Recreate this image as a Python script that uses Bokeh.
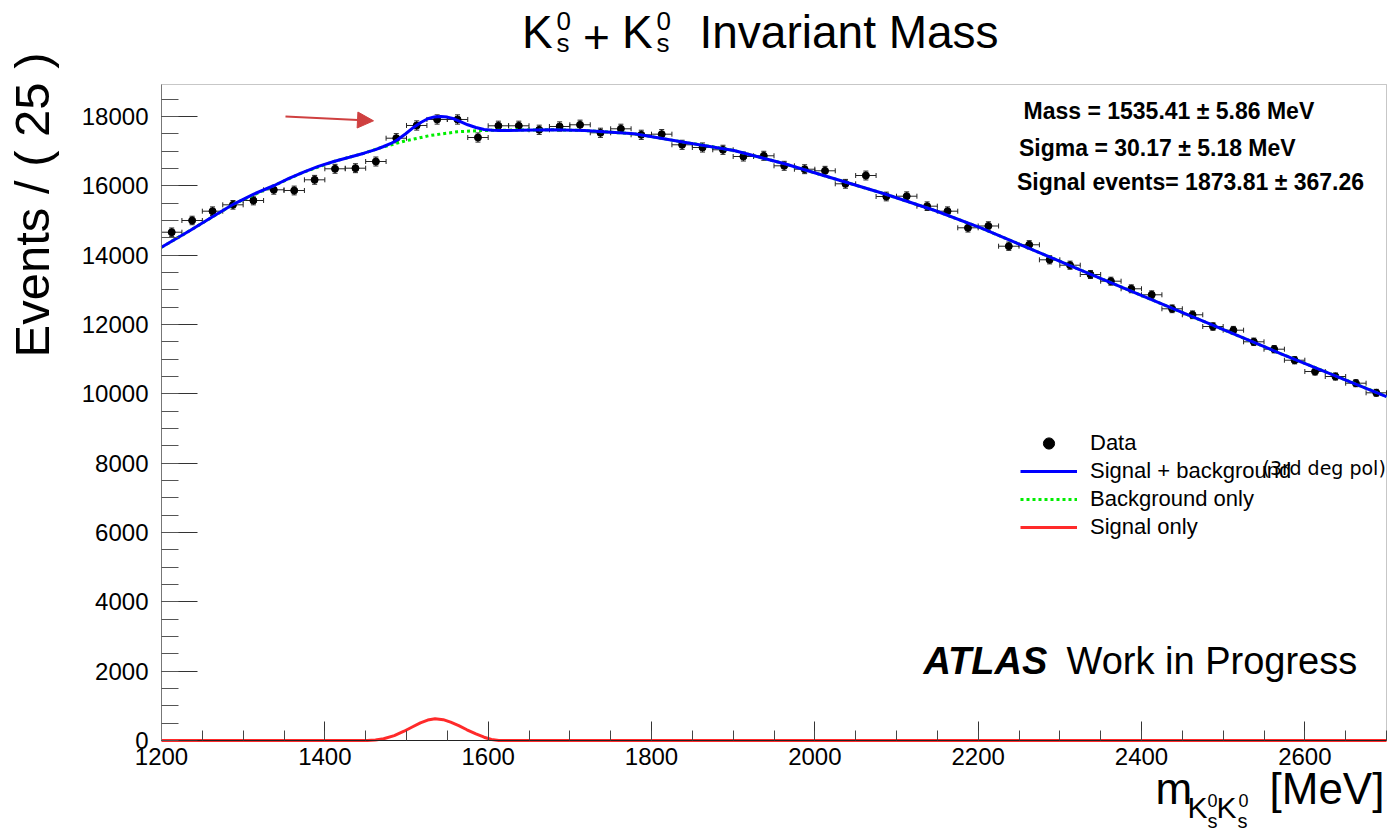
import numpy as np
from bokeh.plotting import figure
from bokeh.models import (Range1d, SingleIntervalTicker, ColumnDataSource, Whisker, TeeHead,
                          Legend, LegendItem, Label, Arrow, NormalHead, BoxAnnotation)
from bokeh.embed import file_html
from bokeh.resources import INLINE

# ---------------- data ----------------
bin_centers = [1212.5, 1237.5, 1262.5, 1287.5, 1312.5, 1337.5, 1362.5, 1387.5, 1412.5, 1437.5,
               1462.5, 1487.5, 1512.5, 1537.5, 1562.5, 1587.5, 1612.5, 1637.5, 1662.5, 1687.5,
               1712.5, 1737.5, 1762.5, 1787.5, 1812.5, 1837.5, 1862.5, 1887.5, 1912.5, 1937.5,
               1962.5, 1987.5, 2012.5, 2037.5, 2062.5, 2087.5, 2112.5, 2137.5, 2162.5, 2187.5,
               2212.5, 2237.5, 2262.5, 2287.5, 2312.5, 2337.5, 2362.5, 2387.5, 2412.5, 2437.5,
               2462.5, 2487.5, 2512.5, 2537.5, 2562.5, 2587.5, 2612.5, 2637.5, 2662.5, 2687.5]
counts = [14660, 14998, 15266, 15450, 15574, 15883, 15863, 16171, 16489, 16506,
          16699, 17371, 17738, 17911, 17911, 17391, 17729, 17729, 17614, 17709,
          17758, 17527, 17642, 17469, 17487, 17181, 17103, 17037, 16843, 16864,
          16575, 16477, 16431, 16056, 16295, 15690, 15698, 15410, 15266, 14787,
          14839, 14256, 14297, 13864, 13708, 13440, 13247, 13028, 12855, 12451,
          12278, 11940, 11834, 11499, 11286, 10968, 10642, 10498, 10305, 10028]
bin_width = 25

total_x = [1200, 1235, 1262, 1289, 1313, 1338, 1356, 1374, 1392, 1411, 1430, 1448, 1462, 1472,
           1481, 1489, 1499, 1509, 1518, 1526, 1534, 1542, 1550, 1558, 1566, 1575, 1585, 1595,
           1605, 1615, 1640, 1677, 1718, 1779, 1840, 1901, 1963, 2024, 2085, 2147, 2204, 2327,
           2449, 2571, 2700]
total_y = [14227, 14709, 15100, 15479, 15760, 16007, 16210, 16391, 16560, 16699, 16820, 16939,
           17040, 17132, 17220, 17325, 17500, 17689, 17830, 17931, 17985, 18000, 17980, 17931,
           17850, 17758, 17680, 17622, 17600, 17593, 17600, 17614, 17593, 17498, 17256, 17016,
           16633, 16200, 15768, 15286, 14775, 13555, 12353, 11153, 9921]

bkg_x = [1200, 1235, 1289, 1338, 1374, 1411, 1448, 1468, 1497, 1529, 1562, 1591, 1615, 1677,
         1718, 1779, 1840, 1901, 1963, 2024, 2085, 2147, 2204, 2327, 2449, 2571, 2700]
bkg_y = [14227, 14709, 15479, 16007, 16391, 16699, 16939, 17094, 17285, 17449, 17556, 17593,
         17602, 17614, 17593, 17498, 17256, 17016, 16633, 16200, 15768, 15286, 14775, 13555,
         12353, 11153, 9921]

sig_x = [1200, 1452, 1462, 1472, 1485, 1497, 1507, 1517, 1526, 1535, 1545, 1554, 1564, 1574,
         1585, 1595, 1604, 1613, 2700]
sig_y = [0, 0, 15, 49, 140, 268, 390, 510, 590, 626, 600, 528, 430, 309, 190, 95, 30, 0, 0]

x_ticks_interval = 200
y_ticks_interval = 2000

# ---------------- geometry ----------------
W, H = 1390, 834
X_MIN, X_MAX = 1200, 2700
Y_MIN, Y_MAX = 0, 18920
FL, FR, FT, FB = 161, 1386, 84, 740   # pixel box of the axes frame


def X(px):
    return X_MIN + (px - FL) * (X_MAX - X_MIN) / (FR - FL)


def Y(py):
    return Y_MIN + (FB - py) * (Y_MAX - Y_MIN) / (FB - FT)


p = figure(width=W, height=H, x_range=Range1d(X(0), X(W)), y_range=Range1d(Y(H), Y(0)),
           output_backend="svg", toolbar_location=None, title=None, min_border=0)
p.background_fill_color = "white"
p.border_fill_color = "white"
p.outline_line_color = None
p.xgrid.visible = False
p.ygrid.visible = False

xa = p.xaxis[0]
xa.fixed_location = Y_MIN
xa.bounds = (X_MIN, X_MAX)
xa.ticker = SingleIntervalTicker(interval=x_ticks_interval, num_minor_ticks=4)
xa.major_tick_in = 19
xa.major_tick_out = 0
xa.minor_tick_in = 10
xa.minor_tick_out = 0
xa.major_label_standoff = 7
xa.major_label_text_font = "Liberation Sans"
xa.major_label_text_font_size = "24px"
xa.major_label_text_color = "black"
xa.axis_line_color = "#222222"
xa.major_tick_line_color = "#333333"
xa.minor_tick_line_color = "#444444"

ya = p.yaxis[0]
ya.fixed_location = X_MIN
ya.bounds = (Y_MIN, Y_MAX)
ya.ticker = SingleIntervalTicker(interval=y_ticks_interval, num_minor_ticks=4)
ya.major_tick_in = 36
ya.major_tick_out = 0
ya.minor_tick_in = 17
ya.minor_tick_out = 0
ya.major_label_standoff = 13
ya.major_label_text_font = "Liberation Sans"
ya.major_label_text_font_size = "24px"
ya.major_label_text_color = "black"
ya.axis_line_color = "#777777"
ya.major_tick_line_color = "#333333"
ya.minor_tick_line_color = "#555555"

# frame box (top and right edges)
p.add_layout(BoxAnnotation(left=X_MIN, right=X_MAX, bottom=Y_MIN, top=Y_MAX,
                           fill_alpha=0, line_color="#444444", line_width=1, level="underlay"))

# ---------------- data points with error bars ----------------
cnt = np.array(counts, dtype=float)
err = np.sqrt(cnt)
xc = np.array(bin_centers, dtype=float)
src = ColumnDataSource(dict(x=xc, y=cnt, yl=cnt - err, yu=cnt + err,
                            xl=xc - bin_width / 2, xu=xc + bin_width / 2))

wh = Whisker(source=src, base="y", lower="xl", upper="xu", dimension="width",
             line_color="#222222", line_width=1, level="underlay",
             lower_head=TeeHead(size=5, line_color="#222222", line_width=1),
             upper_head=TeeHead(size=5, line_color="#222222", line_width=1))
wv = Whisker(source=src, base="x", lower="yl", upper="yu", dimension="height",
             line_color="#222222", line_width=1, level="underlay",
             lower_head=TeeHead(size=5, line_color="#222222", line_width=1),
             upper_head=TeeHead(size=5, line_color="#222222", line_width=1))
p.add_layout(wh)
p.add_layout(wv)

pts = p.scatter("x", "y", source=src, size=7, color="black")

r_bkg = p.line(bkg_x, bkg_y, line_color="#00ee00", line_width=3, line_dash="3 3")
r_tot = p.line(total_x, total_y, line_color="#0000ff", line_width=3)
r_sig = p.line(sig_x, sig_y, line_color="#ff2a2a", line_width=3)

# ---------------- legend ----------------
legend = Legend(items=[LegendItem(label="Data", renderers=[pts]),
                       LegendItem(label="Signal + background", renderers=[r_tot]),
                       LegendItem(label="Background only", renderers=[r_bkg]),
                       LegendItem(label="Signal only", renderers=[r_sig])],
                location=(1020, H - 541),
                border_line_alpha=0, background_fill_alpha=0,
                label_text_font="Liberation Sans", label_text_font_size="22px",
                label_text_color="black",
                glyph_width=57, glyph_height=28, label_height=28, spacing=0,
                padding=0, margin=0, label_standoff=13)
p.add_layout(legend)

DESC = 0.17  # fraction of the font size between the baseline and the text bottom


def lab(text, px, py, size, font="Liberation Sans", style="normal"):
    """px: left of the text, py: pixel row of its baseline."""
    l = Label(x=X(px), y=Y(py + DESC * size), text=text, text_font=font,
              text_font_size=f"{size}px", text_font_style=style, text_color="black",
              text_baseline="bottom")
    p.add_layout(l)
    return l


p.add_layout(Label(x=X(1262), y=Y(467), text="(3rd deg pol)", text_font="DejaVu Sans",
                   text_font_size="19px", text_color="black", text_baseline="middle"))

# fit results
lab("Mass = 1535.41 \u00b1 5.86 MeV", 1023, 120, 23, style="bold")
lab("Sigma = 30.17  \u00b1 5.18 MeV", 1018.5, 157, 23, style="bold")
lab("Signal events= 1873.81 \u00b1 367.26", 1016.5, 191, 23, style="bold")

# ATLAS label
lab("ATLAS", 923, 675, 38, style="bold italic")
lab("Work in Progress", 1066, 675, 38)

# arrow
p.add_layout(Arrow(end=NormalHead(size=16, fill_color="#cf4040", line_color="#cf4040"),
                   x_start=X(285), y_start=Y(116), x_end=X(373), y_end=Y(120.3),
                   line_color="#cf4040", line_width=2))

# title
lab("K", 521.5, 50, 46)
lab("0", 556, 25, 26)
lab("s", 556, 53, 26)
lab("+", 582.5, 45, 46)
lab("K", 621.5, 50, 46)
lab("0", 656, 25, 26)
lab("s", 656, 53, 26)
lab("Invariant Mass", 699, 50, 46)

# y axis title (rotated, baseline at x = 50)
p.add_layout(Label(x=X(50 + DESC * 49), y=Y(357), text="Events / ( 25 )", angle=np.pi / 2,
                   text_font="Liberation Sans", text_font_size="49px", text_color="black",
                   text_baseline="bottom"))

# x axis title
lab("m", 1155, 805, 44)
lab("K", 1187, 818, 30)
lab("0", 1207, 803, 18)
lab("s", 1207, 828, 20)
lab("K", 1216, 818, 30)
lab("0", 1238, 803, 18)
lab("s", 1237, 828, 20)
lab("[MeV]", 1269, 805, 44)

open("out.html", "w").write(file_html(p, INLINE))
